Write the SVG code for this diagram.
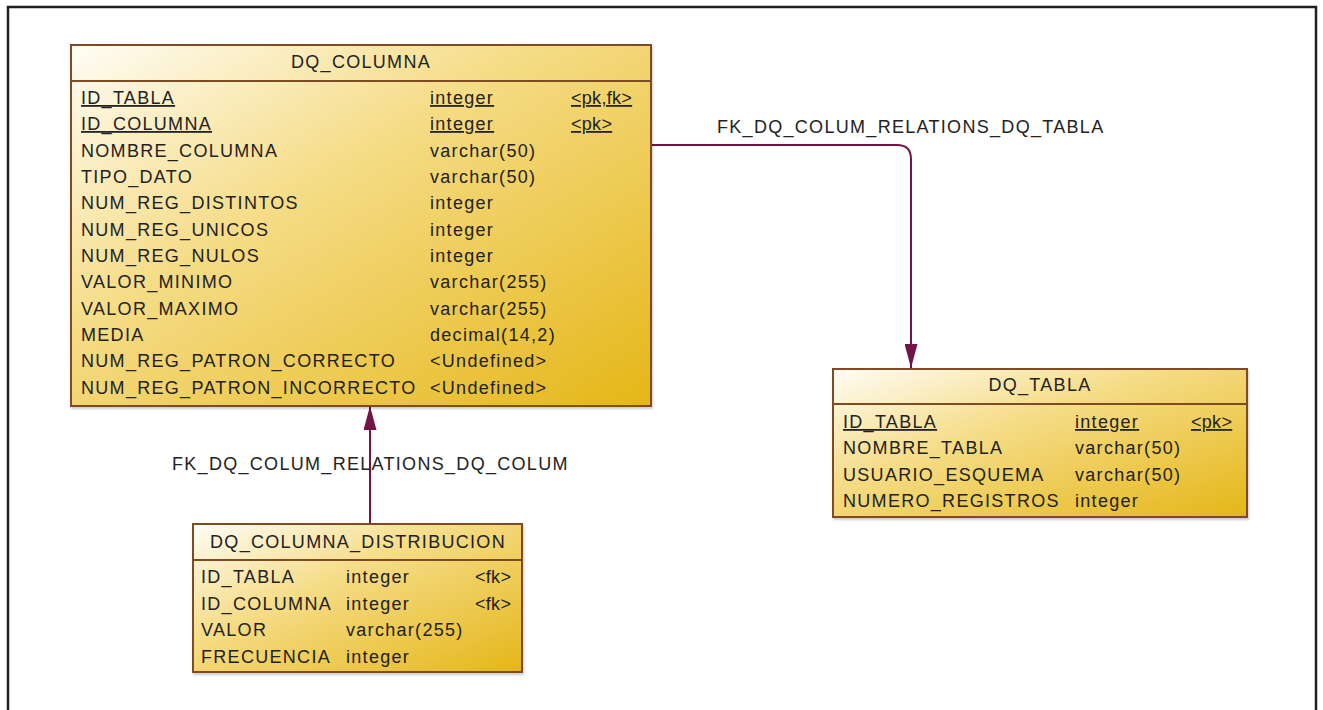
<svg xmlns="http://www.w3.org/2000/svg" width="1323" height="710" viewBox="0 0 1323 710">
<defs>
<linearGradient id="g" x1="0" y1="0" x2="1" y2="1">
<stop offset="0" stop-color="#fffdf6"/>
<stop offset="0.4" stop-color="#f5dc86"/>
<stop offset="1" stop-color="#e5b617"/>
</linearGradient>
<marker id="arr" markerUnits="userSpaceOnUse" markerWidth="24" markerHeight="13" refX="24" refY="6.5" orient="auto" viewBox="0 0 24 13">
<path d="M0,0 L24,6.5 L0,13 Z" fill="#731446"/>
</marker>
<filter id="sh" x="-5%" y="-5%" width="110%" height="110%">
<feDropShadow dx="1" dy="2" stdDeviation="1" flood-color="#000" flood-opacity="0.2"/>
</filter>
</defs>
<style>
text{font-family:"Liberation Sans",Arial,sans-serif;font-size:18px;fill:#222;letter-spacing:1.3px}
.t{text-anchor:middle}
.u{text-decoration:underline}
.k{letter-spacing:0.3px}
.box{fill:url(#g);stroke:#7e4c22;stroke-width:2;filter:url(#sh)}
.sep{stroke:#7e4c22;stroke-width:2}
.c{fill:none;stroke:#731446;stroke-width:2}
</style>
<rect x="8" y="7" width="1308" height="720" fill="#fff" stroke="#231f20" stroke-width="2.5"/>
<g id="connectors">
<path class="c" d="M651,145 H897 Q911,145 911,159 V368" marker-end="url(#arr)"/>
<path class="c" d="M370,523 V406" marker-end="url(#arr)"/>
<text x="717" y="133">FK_DQ_COLUM_RELATIONS_DQ_TABLA</text>
<text x="172" y="470">FK_DQ_COLUM_RELATIONS_DQ_COLUM</text>
</g>
<g id="DQ_COLUMNA">
<rect class="box" x="71" y="45" width="580" height="361"/>
<line class="sep" x1="71" y1="81" x2="651" y2="81"/>
<text class="t" x="361" y="68">DQ_COLUMNA</text>
<text x="81" y="104" class="u">ID_TABLA</text><text x="430" y="104" class="u">integer</text><text x="571" y="104" class="u k">&lt;pk,fk&gt;</text>
<text x="81" y="130" class="u">ID_COLUMNA</text><text x="430" y="130" class="u">integer</text><text x="571" y="130" class="u k">&lt;pk&gt;</text>
<text x="81" y="157">NOMBRE_COLUMNA</text><text x="430" y="157">varchar(50)</text>
<text x="81" y="183">TIPO_DATO</text><text x="430" y="183">varchar(50)</text>
<text x="81" y="209">NUM_REG_DISTINTOS</text><text x="430" y="209">integer</text>
<text x="81" y="236">NUM_REG_UNICOS</text><text x="430" y="236">integer</text>
<text x="81" y="262">NUM_REG_NULOS</text><text x="430" y="262">integer</text>
<text x="81" y="288">VALOR_MINIMO</text><text x="430" y="288">varchar(255)</text>
<text x="81" y="315">VALOR_MAXIMO</text><text x="430" y="315">varchar(255)</text>
<text x="81" y="341">MEDIA</text><text x="430" y="341">decimal(14,2)</text>
<text x="81" y="367">NUM_REG_PATRON_CORRECTO</text><text x="430" y="367">&lt;Undefined&gt;</text>
<text x="81" y="394">NUM_REG_PATRON_INCORRECTO</text><text x="430" y="394">&lt;Undefined&gt;</text>
</g>
<g id="DQ_TABLA">
<rect class="box" x="833" y="369" width="414" height="148"/>
<line class="sep" x1="833" y1="404" x2="1247" y2="404"/>
<text class="t" x="1040" y="391">DQ_TABLA</text>
<text x="843" y="428" class="u">ID_TABLA</text><text x="1075" y="428" class="u">integer</text><text x="1191" y="428" class="u k">&lt;pk&gt;</text>
<text x="843" y="454">NOMBRE_TABLA</text><text x="1075" y="454">varchar(50)</text>
<text x="843" y="481">USUARIO_ESQUEMA</text><text x="1075" y="481">varchar(50)</text>
<text x="843" y="507">NUMERO_REGISTROS</text><text x="1075" y="507">integer</text>
</g>
<g id="DQ_COLUMNA_DISTRIBUCION">
<rect class="box" x="193" y="524" width="329" height="148"/>
<line class="sep" x1="193" y1="560" x2="522" y2="560"/>
<text class="t" x="358" y="548">DQ_COLUMNA_DISTRIBUCION</text>
<text x="201" y="583">ID_TABLA</text><text x="346" y="583">integer</text><text x="475" y="583" class="k">&lt;fk&gt;</text>
<text x="201" y="610">ID_COLUMNA</text><text x="346" y="610">integer</text><text x="475" y="610" class="k">&lt;fk&gt;</text>
<text x="201" y="636">VALOR</text><text x="346" y="636">varchar(255)</text>
<text x="201" y="663">FRECUENCIA</text><text x="346" y="663">integer</text>
</g>
</svg>
